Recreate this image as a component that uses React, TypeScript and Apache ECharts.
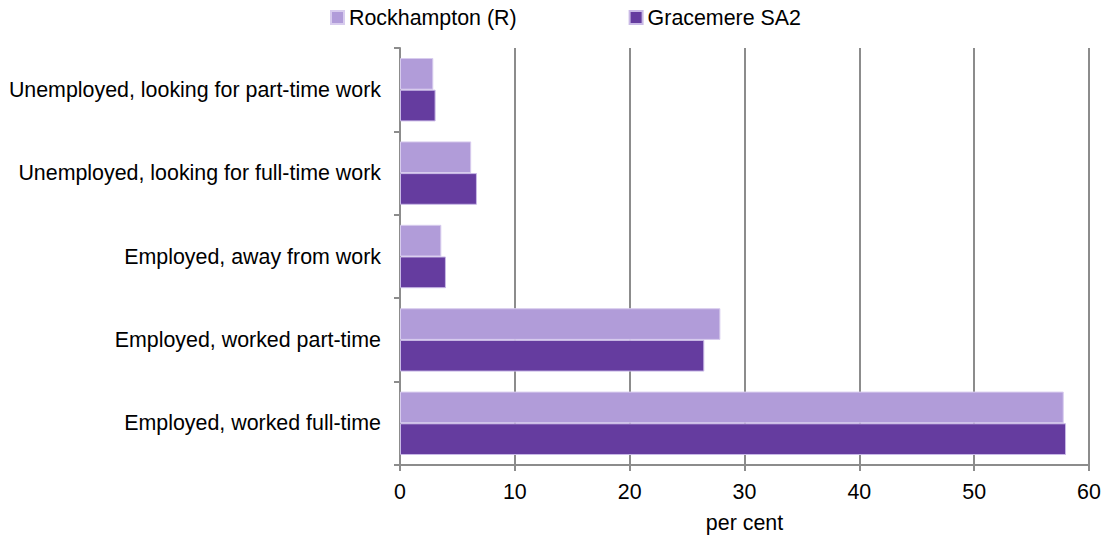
import React, { useEffect, useRef } from "react";
import * as echarts from "echarts";

const categories = [
  "Unemployed, looking for part-time work",
  "Unemployed, looking for full-time work",
  "Employed, away from work",
  "Employed, worked part-time",
  "Employed, worked full-time",
];
const rockhampton = [2.9, 6.2, 3.6, 27.9, 57.8];
const gracemere = [3.1, 6.7, 4.0, 26.5, 58.0];
const seriesNames = ["Rockhampton (R)", "Gracemere SA2"];
const colors = ["#B19CD9", "#653C9F"];

export default function App() {
  const ref = useRef<HTMLDivElement>(null);
  useEffect(() => {
    const chart = echarts.init(ref.current!, null, { renderer: "svg" });
    const font = "Liberation Sans, Arial, sans-serif";
    const fs = 21.4;
    chart.setOption({
      animation: false,
      textStyle: { fontFamily: font },
      legend: {
        data: seriesNames,
        left: 330,
        top: 7,
        padding: 0,
        itemWidth: 13,
        itemHeight: 13,
        itemGap: 112,
        icon: "rect",
        textStyle: { fontSize: fs, color: "#000", fontFamily: font },
      },
      grid: { left: 400, right: 18, top: 48, bottom: 73, outerBoundsMode: "none", containLabel: false },
      xAxis: {
        type: "value",
        min: 0,
        max: 60,
        interval: 10,
        name: "per cent",
        nameLocation: "middle",
        nameGap: 47,
        nameTextStyle: { fontSize: fs, color: "#000", fontFamily: font },
        axisLine: { show: true, lineStyle: { color: "#8c8c8c", width: 2 } },
        axisTick: { show: true, length: 6, lineStyle: { color: "#8c8c8c", width: 2 } },
        axisLabel: { fontSize: fs, color: "#000", margin: 16, fontFamily: font },
        splitLine: { show: true, lineStyle: { color: "#8c8c8c", width: 2 } },
      },
      yAxis: {
        type: "category",
        data: categories,
        inverse: true,
        axisLine: { show: true, lineStyle: { color: "#8c8c8c", width: 2 } },
        axisTick: { show: true, length: 6, lineStyle: { color: "#8c8c8c", width: 2 } },
        axisLabel: { fontSize: fs, color: "#000", margin: 19, fontFamily: font },
      },
      series: [
        {
          name: seriesNames[0],
          type: "bar",
          data: rockhampton,
          barGap: "0%",
          barCategoryGap: "24%",
          itemStyle: { color: colors[0], borderColor: "#d8ccee", borderWidth: 1 },
        },
        {
          name: seriesNames[1],
          type: "bar",
          data: gracemere,
          barGap: "0%",
          barCategoryGap: "24%",
          itemStyle: { color: colors[1], borderColor: "#c9b9e6", borderWidth: 1 },
        },
      ],
    });
    return () => chart.dispose();
  }, []);
  return (
    <div
      ref={ref}
      style={{ position: "fixed", left: 0, top: 0, width: 1107, height: 538, background: "#fff" }}
    />
  );
}
